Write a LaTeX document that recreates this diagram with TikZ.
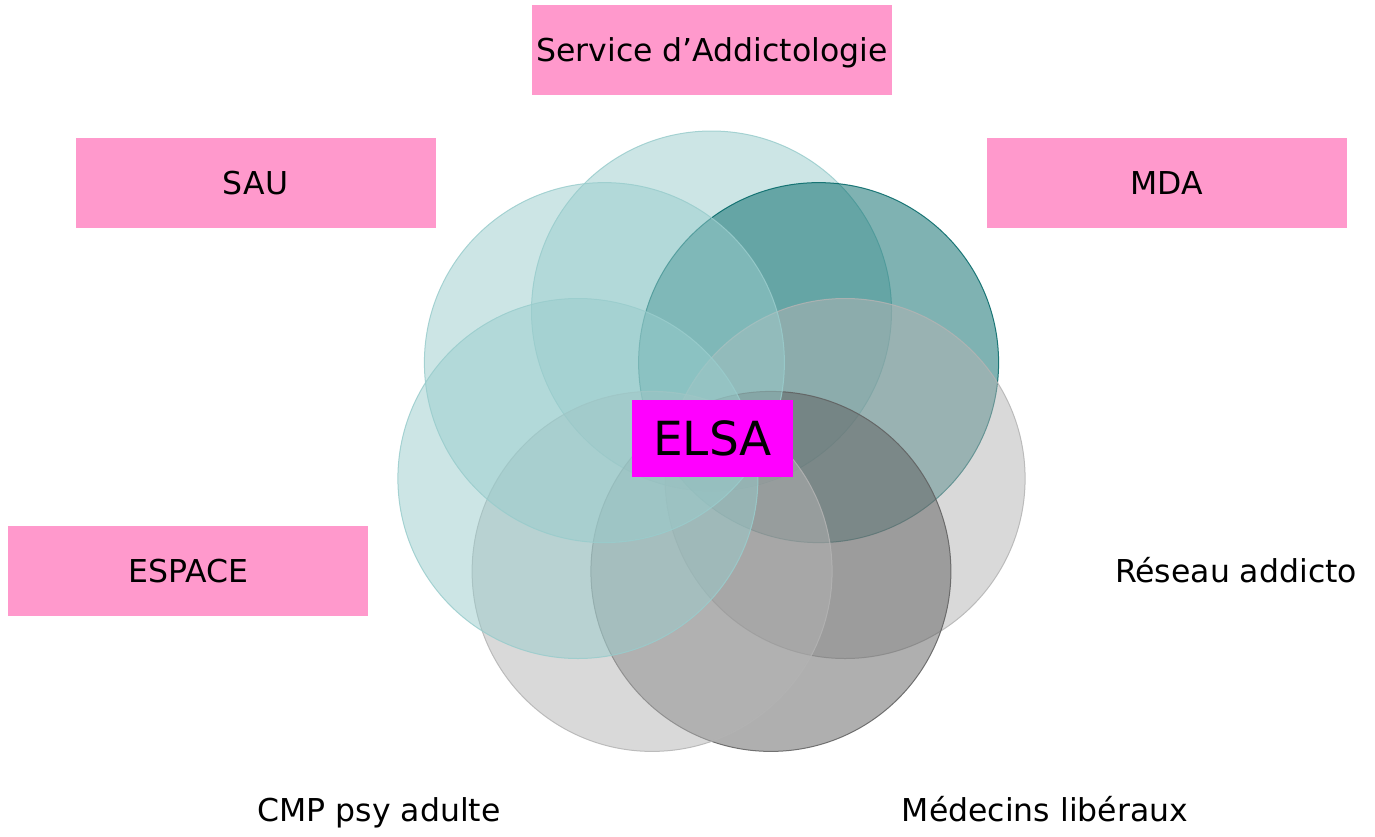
\documentclass[tikz,border=0pt]{standalone}
\usepackage{fontspec}
\setmainfont{DejaVu Sans}
\definecolor{pinkbox}{HTML}{FF99CC}
\definecolor{elsabox}{HTML}{FF00FF}
\definecolor{tealA}{HTML}{99CCCC}
\definecolor{tealB}{HTML}{006666}
\definecolor{grayA}{HTML}{B3B3B3}
\definecolor{grayB}{HTML}{5F5F5F}
\begin{document}
\begin{tikzpicture}[x=1pt,y=-1pt,
  venn/.style={circle, minimum size=360pt, inner sep=0pt, fill=#1, fill opacity=0.5, draw=#1, draw opacity=0.85, line width=1pt},
  lbl/.style={font=\fontsize{31.5}{38}\selectfont, text height=23pt, text depth=0pt, inner sep=0pt, minimum width=360pt, minimum height=90pt},
  pinklbl/.style={lbl, fill=pinkbox},
]
\useasboundingbox (0,0) rectangle (1375,836);
% circles, drawn in order
\node[venn=tealA] (c1) at (711.5,311.0) {};
\node[venn=tealB] (c2) at (818.6,362.6) {};
\node[venn=grayA] (c3) at (845.1,478.5) {};
\node[venn=grayB] (c4) at (770.9,571.4) {};
\node[venn=grayA] (c5) at (652.1,571.4) {};
\node[venn=tealA] (c6) at (577.9,478.5) {};
\node[venn=tealA] (c7) at (604.4,362.6) {};
% labels
\node[pinklbl] (serv) at (712,50) {Service d’Addictologie};
\node[pinklbl] (sau) at (255.5,183) {SAU};
\node[pinklbl] (mda) at (1167,182.5) {MDA};
\node[pinklbl] (espace) at (188,571) {ESPACE};
\node[lbl] (reseau) at (1236,571) {Réseau addicto};
\node[lbl] (cmp) at (379,810) {CMP psy adulte};
\node[lbl] (med) at (1045,810) {Médecins libéraux};
% centre
\node[font=\fontsize{47}{56}\selectfont, fill=elsabox, text height=34pt, text depth=0pt,
      minimum width=161pt, minimum height=77pt, inner sep=0pt] (elsa) at (712.5,438.5) {ELSA};
\end{tikzpicture}
\end{document}
